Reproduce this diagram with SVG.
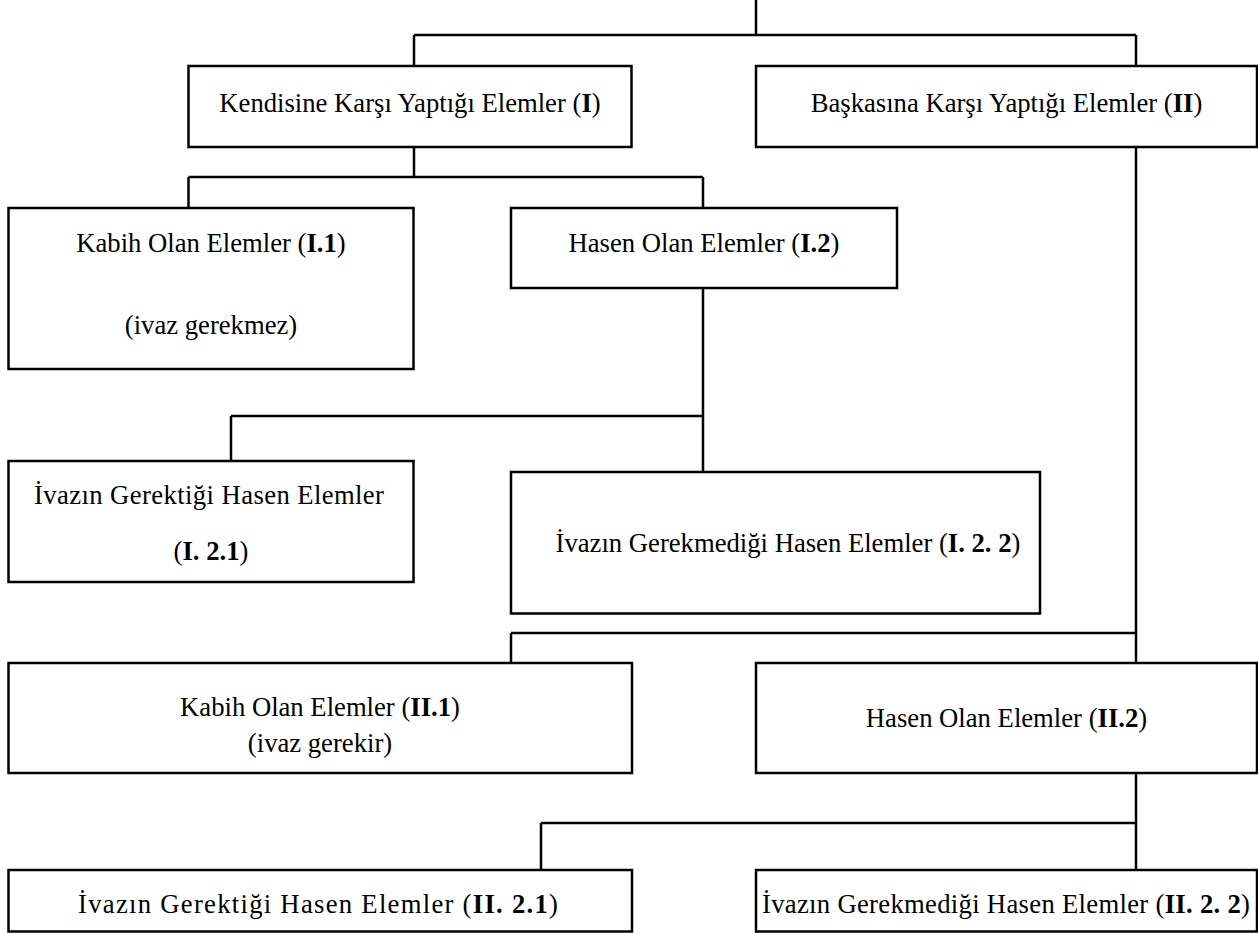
<svg xmlns="http://www.w3.org/2000/svg" width="1258" height="934" viewBox="0 0 1258 934">
<style>
.box{fill:#fff;stroke:#000;stroke-width:2.5}
.ln{fill:none;stroke:#000;stroke-width:2.5}
text{font-family:"Liberation Serif","Times New Roman",serif;font-size:26.67px;fill:#000;text-anchor:middle}
.b{font-weight:bold}
</style>
<rect width="1258" height="934" fill="#fff"/>
<g id="connectors">
<path class="ln" d="M756,0 V35 M414,35 H1136 M414,35 V66 M1136,35 V66"/>
<path class="ln" d="M414,147 V177 M188.5,177 H703 M188.5,177 V208 M703,177 V208"/>
<path class="ln" d="M703,288 V416 M231,416 H703 M231,416 V461 M703,416 V472"/>
<path class="ln" d="M1136,147 V663 M511,633 H1136 M511,633 V663"/>
<path class="ln" d="M1136,773 V870 M541,823 H1136 M541,823 V870"/>
</g>
<g id="n-I">
<rect class="box" x="188.5" y="66" width="443" height="81"/>
<text x="410" y="112">Kendisine Karşı Yaptığı Elemler (<tspan class="b">I</tspan>)</text>
</g>
<g id="n-II">
<rect class="box" x="756" y="66" width="501" height="81"/>
<text x="1006.5" y="112">Başkasına Karşı Yaptığı Elemler (<tspan class="b">II</tspan>)</text>
</g>
<g id="n-I1">
<rect class="box" x="8.5" y="208" width="405" height="161"/>
<text x="211" y="251.5">Kabih Olan Elemler (<tspan class="b">I.1</tspan>)</text>
<text x="211" y="334">(ivaz gerekmez)</text>
</g>
<g id="n-I2">
<rect class="box" x="511" y="208" width="386" height="80"/>
<text x="704" y="251.5">Hasen Olan Elemler (<tspan class="b">I.2</tspan>)</text>
</g>
<g id="n-I21">
<rect class="box" x="8.5" y="461" width="405" height="121"/>
<text x="209" y="504" textLength="350" lengthAdjust="spacing">İvazın Gerektiği Hasen Elemler</text>
<text x="211" y="560">(<tspan class="b">I. 2.1</tspan>)</text>
</g>
<g id="n-I22">
<rect class="box" x="511" y="472" width="529" height="141.5"/>
<text x="788" y="552">İvazın Gerekmediği Hasen Elemler (<tspan class="b">I. 2. 2</tspan>)</text>
</g>
<g id="n-II1">
<rect class="box" x="8.5" y="663" width="623.5" height="110"/>
<text x="320" y="716">Kabih Olan Elemler (<tspan class="b">II.1</tspan>)</text>
<text x="320" y="751.5">(ivaz gerekir)</text>
</g>
<g id="n-II2">
<rect class="box" x="756" y="663" width="501" height="110"/>
<text x="1006.5" y="726.5">Hasen Olan Elemler (<tspan class="b">II.2</tspan>)</text>
</g>
<g id="n-II21">
<rect class="box" x="8.5" y="870" width="623.5" height="61.5"/>
<text x="318" y="913" textLength="480" lengthAdjust="spacing">İvazın Gerektiği Hasen Elemler (<tspan class="b">II. 2.1</tspan>)</text>
</g>
<g id="n-II22">
<rect class="box" x="756" y="870" width="501" height="61.5"/>
<text x="1006" y="913" textLength="488" lengthAdjust="spacing">İvazın Gerekmediği Hasen Elemler (<tspan class="b">II. 2. 2</tspan>)</text>
</g>
</svg>
